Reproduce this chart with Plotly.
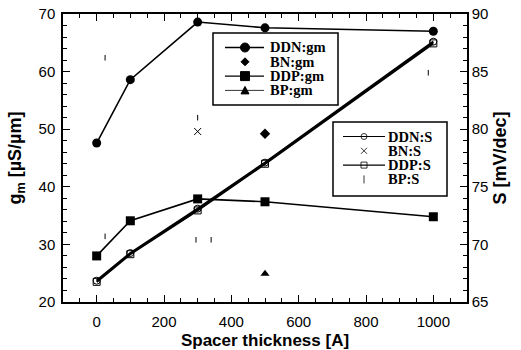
import plotly.graph_objects as go

# ---- data ----
x = [0, 100, 300, 500, 1000]
ddn_gm = [47.6, 58.6, 68.6, 67.6, 67.0]
ddp_gm = [28.0, 34.1, 37.9, 37.4, 34.8]
bn_gm_x = [500]
bn_gm = [49.2]
bp_gm_x = [500]
bp_gm = [24.9]

ddn_s = [66.85, 69.25, 73.1, 77.1, 87.6]
ddp_s = [66.75, 69.15, 72.95, 77.0, 87.45]
bn_s_x = [300]
bn_s = [79.8]
bp_s_x = [300, 25, 25, 340, 295, 985]
bp_s = [81.0, 86.2, 70.7, 70.4, 70.4, 84.9]

x_ticks = [0, 200, 400, 600, 800, 1000]

legend1_names = ["DDN:gm", "BN:gm", "DDP:gm", "BP:gm"]
legend2_names = ["DDN:S", "BN:S", "DDP:S", "BP:S"]

serif = "Liberation Serif"
sans = "Liberation Sans"

fig = go.Figure()

fig.add_trace(go.Scatter(x=x, y=ddn_gm, name="DDN:gm", mode="lines+markers",
    line=dict(color="black", width=1.6), marker=dict(symbol="circle", size=9, color="black")))
fig.add_trace(go.Scatter(x=bn_gm_x, y=bn_gm, name="BN:gm", mode="markers",
    marker=dict(symbol="diamond", size=8, color="black")))
fig.add_trace(go.Scatter(x=x, y=ddp_gm, name="DDP:gm", mode="lines+markers",
    line=dict(color="black", width=1.6), marker=dict(symbol="square", size=9, color="black")))
fig.add_trace(go.Scatter(x=bp_gm_x, y=bp_gm, name="BP:gm", mode="markers",
    marker=dict(symbol="triangle-up", size=8, color="black")))

fig.add_trace(go.Scatter(x=x, y=ddn_s, name="DDN:S", mode="lines+markers", yaxis="y2",
    line=dict(color="black", width=2.2),
    marker=dict(symbol="circle-open", size=7, color="black", line=dict(width=1))))
fig.add_trace(go.Scatter(x=bn_s_x, y=bn_s, name="BN:S", mode="markers", yaxis="y2",
    marker=dict(symbol="x-thin-open", size=7, color="black", line=dict(width=1, color="black"))))
fig.add_trace(go.Scatter(x=x, y=ddp_s, name="DDP:S", mode="lines+markers", yaxis="y2",
    line=dict(color="black", width=2.2),
    marker=dict(symbol="square-open", size=7, color="black", line=dict(width=1))))
fig.add_trace(go.Scatter(x=bp_s_x, y=bp_s, name="BP:S", mode="markers", yaxis="y2",
    marker=dict(symbol="line-ns-open", size=4, color="black", line=dict(width=1, color="black"))))

# ---- layout geometry (pixels) ----
W, H = 521, 350
L, R, T, B = 63, 54, 14, 48
PW, PH = W - L - R, H - T - B


def px(p):
    return (p - L) / PW


def py(p):
    return (H - B - p) / PH


shapes = []
annotations = []


def draw_legend(box, rows, line_x, mark_x, text_x, names, kinds):
    x0, y0, x1, y1 = box
    shapes.append(dict(type="rect", xref="paper", yref="paper",
                       x0=px(x0), x1=px(x1), y0=py(y1), y1=py(y0),
                       line=dict(color="black", width=1.5), fillcolor="white", layer="above"))
    for ry, name, kind in zip(rows, names, kinds):
        has_line, sym, lw = kind
        if has_line:
            shapes.append(dict(type="line", xref="paper", yref="paper",
                               x0=px(line_x[0]), x1=px(line_x[1]), y0=py(ry), y1=py(ry),
                               line=dict(color="black", width=lw), layer="above"))
        base = dict(xref="paper", yref="paper", xsizemode="pixel", ysizemode="pixel",
                    xanchor=px(mark_x), yanchor=py(ry), layer="above")
        if sym == "circle":
            shapes.append(dict(type="circle", x0=-4.5, x1=4.5, y0=-4.5, y1=4.5,
                               fillcolor="black", line=dict(color="black", width=1), **base))
        elif sym == "square":
            shapes.append(dict(type="rect", x0=-4.5, x1=4.5, y0=-4.5, y1=4.5,
                               fillcolor="black", line=dict(color="black", width=1), **base))
        elif sym == "diamond":
            shapes.append(dict(type="path", path="M0,4 L4,0 L0,-4 L-4,0 Z",
                               fillcolor="black", line=dict(color="black", width=1), **base))
        elif sym == "triangle":
            shapes.append(dict(type="path", path="M-4,-3.5 L4,-3.5 L0,4 Z",
                               fillcolor="black", line=dict(color="black", width=1), **base))
        elif sym == "ocircle":
            shapes.append(dict(type="circle", x0=-3, x1=3, y0=-3, y1=3,
                               fillcolor="rgba(0,0,0,0)", line=dict(color="black", width=0.8), **base))
        elif sym == "osquare":
            shapes.append(dict(type="rect", x0=-3, x1=3, y0=-3, y1=3,
                               fillcolor="rgba(0,0,0,0)", line=dict(color="black", width=0.8), **base))
        elif sym == "x":
            shapes.append(dict(type="path", path="M-3,-3 L3,3 M-3,3 L3,-3",
                               line=dict(color="black", width=0.8), **base))
        elif sym == "vbar":
            shapes.append(dict(type="path", path="M0,-4 L0,4",
                               line=dict(color="black", width=0.8), **base))
        annotations.append(dict(xref="paper", yref="paper", x=px(text_x), y=py(ry),
                                xanchor="left", yanchor="middle", showarrow=False,
                                text="<b>%s</b>" % name, borderpad=0,
                                font=dict(family=serif, size=14.5, color="black")))


draw_legend((213, 33, 338, 105), [47.5, 61.8, 76.1, 90.4], (225, 264), 245, 269, legend1_names,
            [(True, "circle", 1.5), (False, "diamond", 1), (True, "square", 1.2), (True, "triangle", 0.8)])
draw_legend((333, 122, 447, 196), [136.5, 150.8, 165.1, 179.4], (343, 385), 364, 387, legend2_names,
            [(True, "ocircle", 1.2), (False, "x", 1), (True, "osquare", 1.2), (False, "vbar", 1)])

axis_common = dict(showline=True, linecolor="black", linewidth=1.5, ticks="inside",
                   tickcolor="black", ticklen=7, tickwidth=1, showgrid=False, zeroline=False,
                   automargin=False,
                   tickfont=dict(family=sans, size=15, color="black"))

fig.update_layout(
    width=W, height=H,
    margin=dict(l=L, r=R, t=T, b=B),
    plot_bgcolor="white", paper_bgcolor="white",
    showlegend=False,
    shapes=shapes,
    annotations=annotations,
    xaxis=dict(range=[-100, 1100], tickvals=x_ticks, mirror="ticks", ticklabelstandoff=5,
               minor=dict(dtick=50, ticks="inside", ticklen=4, tickcolor="black"),
               title=dict(text="<b>Spacer thickness [A]</b>", font=dict(family=sans, size=17, color="black"), standoff=5),
               **axis_common),
    yaxis=dict(range=[20, 70], dtick=10, ticklabelstandoff=3,
               minor=dict(dtick=2, ticks="inside", ticklen=4, tickcolor="black"),
               title=dict(text="<b>g<sub>m</sub> [µS/µm]</b>", font=dict(family=sans, size=18, color="black"), standoff=12),
               **axis_common),
    yaxis2=dict(range=[65, 90], dtick=5, overlaying="y", side="right",
                minor=dict(dtick=1, ticks="inside", ticklen=4, tickcolor="black"),
                title=dict(text="<b>S [mV/dec]</b>", font=dict(family=sans, size=18, color="black"), standoff=6),
                **axis_common),
)

fig.write_html("out.html")
